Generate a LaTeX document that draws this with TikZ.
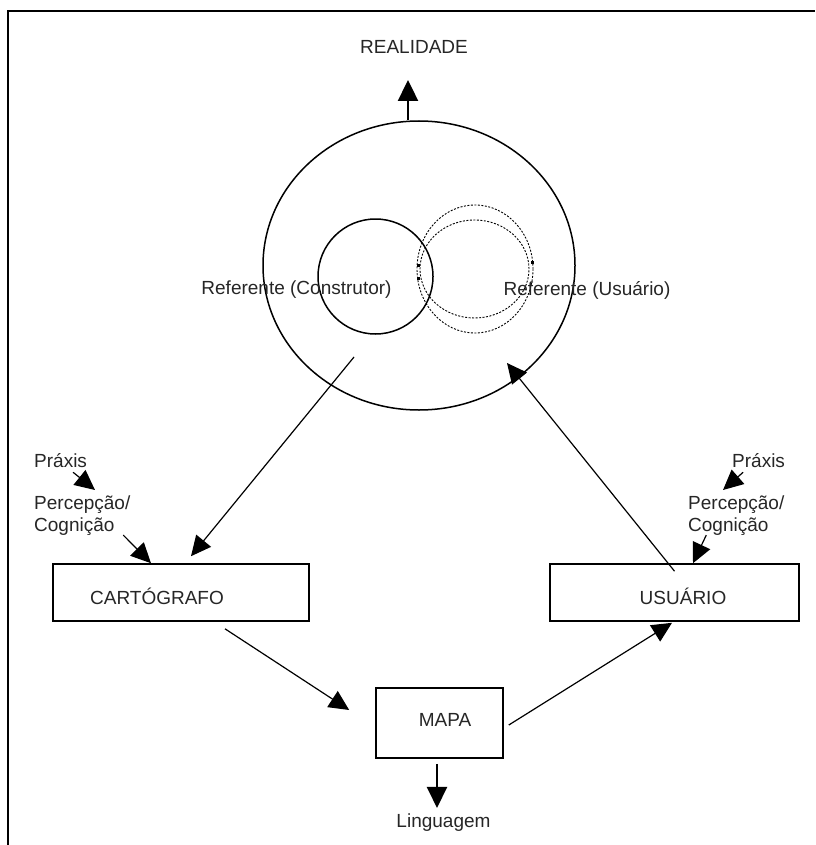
\documentclass[tikz,border=0pt]{standalone}
\usepackage{fontspec}
\setmainfont{Liberation Sans}
\usetikzlibrary{arrows.meta,shapes.geometric}

\begin{document}
\begin{tikzpicture}[x=1pt, y=-1pt,
  box/.style={draw, line width=1.6pt, inner sep=0pt},
  lbl/.style={font=\fontsize{19}{22}\selectfont, text=black!85, inner sep=0pt},
  arr/.style={-{Triangle[length=20pt,width=19pt]}, line width=1.2pt},
  bigarr/.style={-{Triangle[length=21pt,width=20pt]}, line width=2.4pt},
  ring/.style={draw, line width=1.5pt, inner sep=0pt},
  dashring/.style={draw, ellipse, dash pattern=on 2pt off 1.5pt, line width=0.9pt, inner sep=0pt}
]
\useasboundingbox (0,0) rectangle (815,845);

% frame, cut at right and bottom
\draw[line width=2.5pt] (8,845) -- (8,11) -- (815,11);

% reality and the two referents
\node[lbl] at (414,47) (real) {REALIDADE};
\node[ring, ellipse, minimum width=312pt, minimum height=289pt] at (419,265.5) (world) {};
\node[ring, circle, minimum size=115pt] at (375.5,276.5) (constr) {};
\node[dashring, minimum width=116pt, minimum height=128pt] at (475,269) (usuA) {};
\node[dashring, minimum width=109pt, minimum height=98pt] at (474.5,269) (usuB) {};
\fill (416.5,263.5) rectangle ++(3,3);
\fill (416.5,276.5) rectangle ++(3,3);
\fill (531,260.5) rectangle ++(3,3);

\node[lbl] at (296.5,290) (refc) {Referente (Construtor)};
\node[lbl] at (587,290)   (refu) {Referente (Usuário)};

% boxes
\node[box, minimum width=256pt, minimum height=57pt] at (181,592.5) (cart) {};
\node[lbl] at ([shift={(-24,4)}]cart.center) (cartlbl) {CARTÓGRAFO};
\node[box, minimum width=249pt, minimum height=57pt] at (674.5,592.5) (usu) {};
\node[lbl] at ([shift={(8.5,4)}]usu.center) (usulbl) {USUÁRIO};
\node[box, minimum width=127pt, minimum height=70pt] at (439.5,723) (mapa) {};
\node[lbl] at ([shift={(5.5,-3)}]mapa.center) (mapalbl) {MAPA};
\node[lbl] at (443.5,823) (ling) {Linguagem};

% praxis and perception
\node[lbl, anchor=west] at (34,461) (praxL) {Práxis};
\node[lbl, anchor=west, align=left] at (34,516) (percL) {Percepção/\\Cognição};
\node[lbl, anchor=west] at (732,461) (praxR) {Práxis};
\node[lbl, anchor=west, align=left] at (688,516) (percR) {Percepção/\\Cognição};

\coordinate (realtip) at (408,80);
\coordinate (cfrom) at (354,357);
\coordinate (utip) at (507,363);

% arrows
\draw[bigarr] ([xshift=-11pt]world.north) -- (realtip);
\draw[arr] (cfrom) -- ([shift={(10,-7)}]cart.north);
\draw[arr] ([shift={(0,8)}]usu.north) -- (utip);
\draw[arr] ([shift={(44,7)}]cart.south) -- ([shift={(-26,-13)}]mapa.west);
\draw[arr] ([shift={(5,2)}]mapa.east) -- ([shift={(-2.5,1)}]usu.south);
\draw[bigarr] ([shift={(-2.5,5)}]mapa.south) -- ([shift={(-6.5,-6)}]ling.north);

\draw[arr] ([shift={(12.5,4)}]praxL.south) -- (95,490);
\draw[arr] ([shift={(41,-1)}]percL.south) -- ([xshift=-30pt]cart.north);
\draw[arr] ([shift={(-15.5,4)}]praxR.south) -- (723,490);
\draw[arr] ([shift={(-30,-1)}]percR.south) -- ([xshift=18.5pt]usu.north);

\end{tikzpicture}
\end{document}
